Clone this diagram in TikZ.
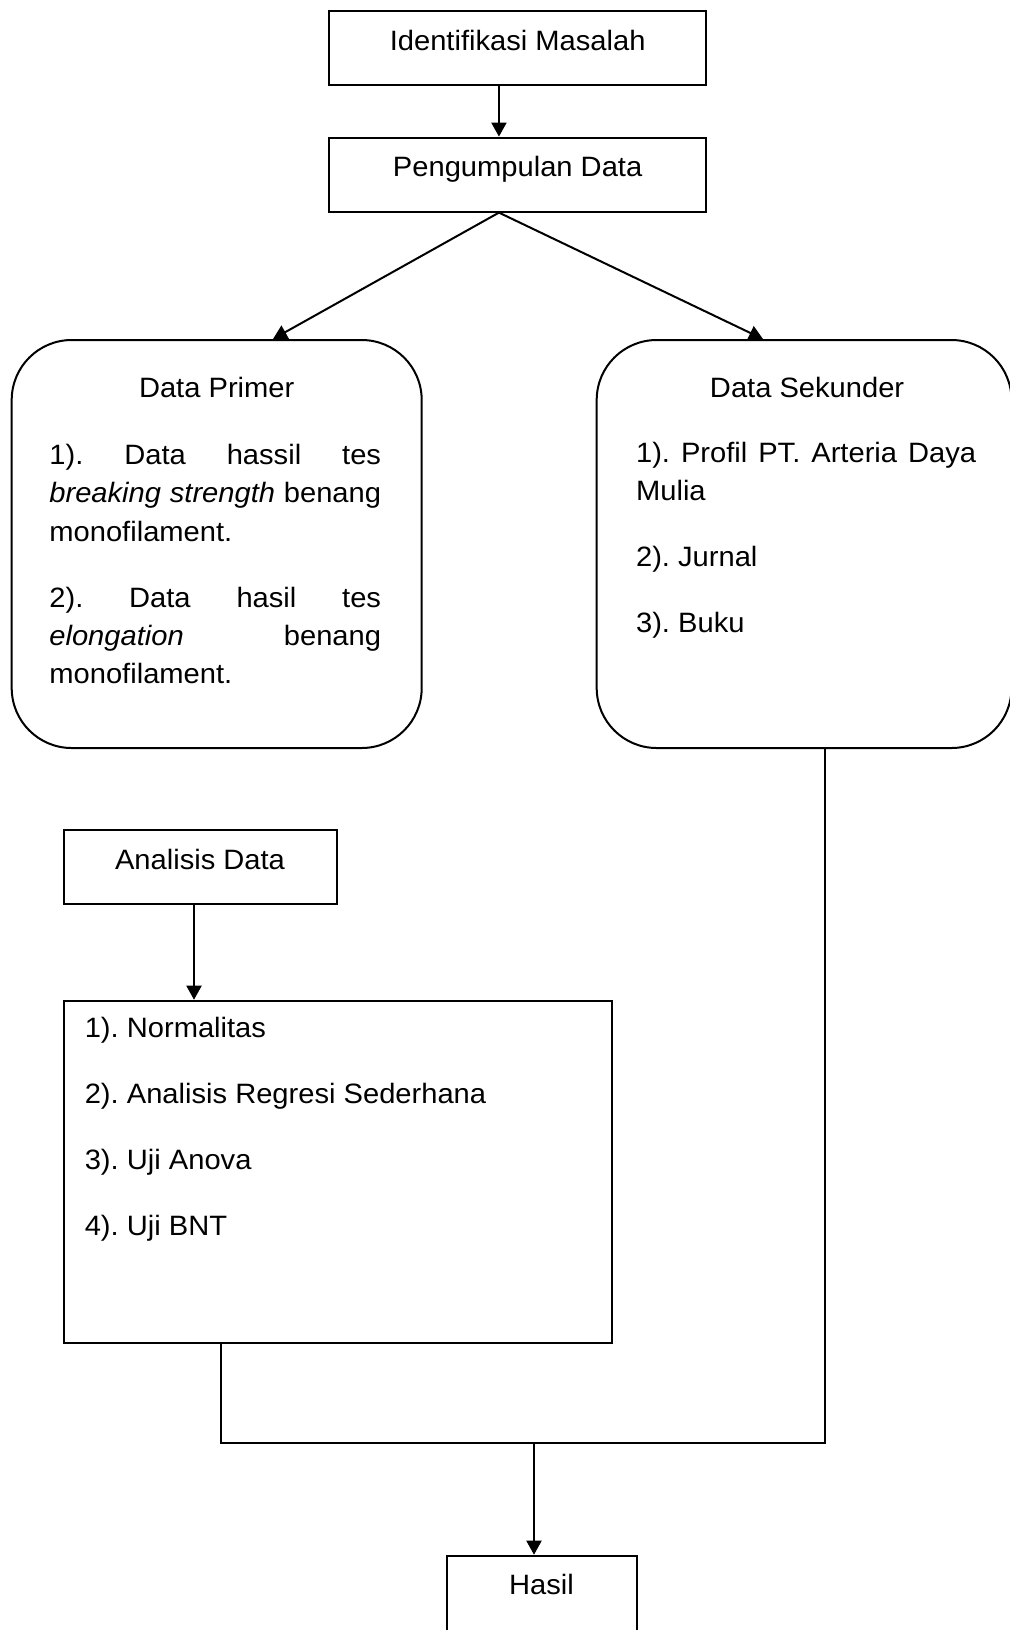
\documentclass[tikz,border=0pt]{standalone}
\usepackage{fontspec}
\setmainfont{Liberation Sans}[FakeStretch=1.04]
\usepackage{tikz}
\usetikzlibrary{positioning,calc,arrows.meta}

\newcommand{\listset}{\parskip=13.75pt\relax\parindent=0pt\relax\tolerance=10000\relax\hyphenpenalty=10000\relax}

\tikzset{
  stepbox/.style={draw, line width=1pt, inner sep=0pt, text height=19.5pt, text depth=17.5pt},
  roundbox/.style={draw, line width=1pt, rounded corners=30pt, minimum width=205pt, minimum height=204pt},
  listbox/.style={draw, line width=1pt, minimum width=274.25pt, minimum height=170.9pt},
  titletxt/.style={anchor=base, inner sep=0pt},
  bodytxt/.style={anchor=north west, inner sep=0pt, align=justify},
  arr/.style={line width=1pt, -{Triangle[length=7pt,width=7.5pt]}},
  link/.style={line width=1pt}
}

\begin{document}
\begin{tikzpicture}[x=0.5pt, y=-0.5pt, font=\fontsize{14pt}{19.2pt}\selectfont]
    \useasboundingbox (0,0) rectangle (1009,1630);
    % top boxes
    \node[stepbox, minimum width=188.35pt] (idm) at (517.65,48) {Identifikasi Masalah};
    \node[stepbox, minimum width=188.35pt] (pd) at (517.65,174.6) {Pengumpulan Data};
    \draw[arr] ($(idm.south)+(-18.7,0)$) -- ($(pd.north)+(-18.7,0)$);
    \coordinate (split) at ($(pd.south)+(-18.7,0)$);

    % data boxes
    \node[roundbox] (primer) at (216.7,544) {};
    \node[roundbox, minimum width=207.4pt] (sekunder) at (804.1,544) {};
    \draw[arr] (split) -- ($(primer.north)+(56.3,0)$);
    \draw[arr] (split) -- ($(sekunder.north)+(-41.1,0)$);

    \node[titletxt] (primerT) at ($(primer.north)+(0,58)$) {Data Primer};
    \node[bodytxt, text width=165.85pt] (primerL) at ($(primer.north west)+(38.3,101)$) {\listset\vrule height 12pt width 0pt\relax 1).\ Data hassil tes\linebreak
      \emph{breaking strength} benang\linebreak monofilament.\par
      2).\ Data hasil tes\linebreak \emph{elongation} benang\linebreak monofilament.\par};

    \node[titletxt] (sekunderT) at ($(sekunder.north)+(3,58)$) {Data Sekunder};
    \node[bodytxt, text width=170pt] (sekunderL) at ($(sekunder.north west)+(40,99)$) {\listset\vrule height 12pt width 0pt\relax 1).\ Profil PT.\ Arteria Daya\linebreak Mulia\par
      2).\ Jurnal\par
      3).\ Buku\par};

    % analisis
    \node[stepbox, minimum width=136.5pt] (anl) at (200,867) {Analisis Data};
    \node[listbox] (uji) at (337.75,1171.6) {};
    \coordinate (anlout) at ($(anl.south)+(-6,0)$);
    \draw[arr] (anlout) -- (anlout |- uji.north);
    \node[bodytxt, text width=250pt] (ujiL) at ($(uji.north west)+(21.9,13.6)$) {\listset\vrule height 12pt width 0pt\relax 1).\ Normalitas\par
      2).\ Analisis Regresi Sederhana\par
      3).\ Uji Anova\par
      4).\ Uji BNT\par};

    % hasil
    \node[stepbox, minimum width=95pt, text depth=20.5pt] (hsl) at (541.5,1595.7) {Hasil};
    \coordinate (merge) at (534,1442.7);
    \draw[link] ($(sekunder.south)+(20.9,0)$) |- (merge);
    \draw[link] ($(uji.south)+(-116.35,0)$) |- (merge);
    \draw[arr] (merge) -- (merge |- hsl.north);
\end{tikzpicture}
\end{document}
